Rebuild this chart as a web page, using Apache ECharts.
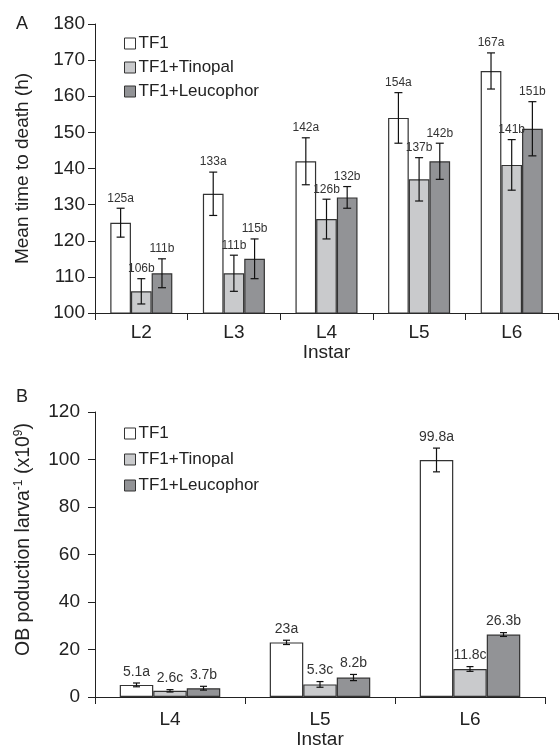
<!DOCTYPE html>
<html>
<head>
<meta charset="utf-8">
<script src="https://cdn.jsdelivr.net/npm/echarts@6/dist/echarts.min.js"></script>
<style>
  html, body { margin: 0; padding: 0; background: #fff; }
  #chart { width: 559px; height: 750px; }
</style>
</head>
<body>
<div id="chart"></div>
<script>
// panel A: mean time to death (h)
const instarsA = ['L2', 'L3', 'L4', 'L5', 'L6'];
const tf1A = [125, 133, 142, 154, 167];
const tinopalA = [106, 111, 126, 137, 141];
const leucoA = [111, 115, 132, 142, 151];
const tf1ErrA = [4, 6, 6.5, 7, 5];
const tinopalErrA = [3.5, 5, 5.5, 6, 7];
const leucoErrA = [4, 5.5, 3, 5, 7.5];
const tf1LabA = ['125a', '133a', '142a', '154a', '167a'];
const tinopalLabA = ['106b', '111b', '126b', '137b', '141b'];
const leucoLabA = ['111b', '115b', '132b', '142b', '151b'];

// panel B: OB production per larva (x10^9)
const instarsB = ['L4', 'L5', 'L6'];
const tf1B = [5.1, 23, 99.8];
const tinopalB = [2.6, 5.3, 11.8];
const leucoB = [3.7, 8.2, 26.3];
const tf1ErrB = [0.8, 0.9, 5];
const tinopalErrB = [0.5, 1.2, 1];
const leucoErrB = [0.8, 1.3, 0.8];
const tf1LabB = ['5.1a', '23a', '99.8a'];
const tinopalLabB = ['2.6c', '5.3c', '11.8c'];
const leucoLabB = ['3.7b', '8.2b', '26.3b'];

const yTicksA = { min: 100, max: 180, interval: 10 };
const yTicksB = { min: 0, max: 120, interval: 20 };

const names = ['TF1', 'TF1+Tinopal', 'TF1+Leucophor'];
const colors = ['#ffffff', '#c9cacc', '#929396'];
const font = 'Liberation Sans, Arial, sans-serif';
const catGap = 0.33;

function errItems(means, errs, labels) {
  const items = [];
  for (let s = 0; s < means.length; s++) {
    for (let c = 0; c < means[s].length; c++) {
      items.push({ value: [c, s, means[s][c] - errs[s][c], means[s][c] + errs[s][c]], label: labels[s][c] });
    }
  }
  return items;
}

const errA = errItems([tf1A, tinopalA, leucoA], [tf1ErrA, tinopalErrA, leucoErrA], [tf1LabA, tinopalLabA, leucoLabA]);
const errB = errItems([tf1B, tinopalB, leucoB], [tf1ErrB, tinopalErrB, leucoErrB], [tf1LabB, tinopalLabB, leucoLabB]);

function errRender(items, capW, fontSize) {
  return function (params, api) {
    const cat = api.value(0), s = api.value(1), lo = api.value(2), hi = api.value(3);
    const band = api.size([1, 0])[0];
    const groupW = band * (1 - catGap);
    const bw = groupW / 3;
    const pLo = api.coord([cat, lo]);
    const pHi = api.coord([cat, hi]);
    const x = pLo[0] - groupW / 2 + bw * (s + 0.5);
    const st = { stroke: '#111', lineWidth: 1.2 };
    return {
      type: 'group',
      children: [
        { type: 'line', shape: { x1: x, y1: pLo[1], x2: x, y2: pHi[1] }, style: st },
        { type: 'line', shape: { x1: x - capW / 2, y1: pHi[1], x2: x + capW / 2, y2: pHi[1] }, style: st },
        { type: 'line', shape: { x1: x - capW / 2, y1: pLo[1], x2: x + capW / 2, y2: pLo[1] }, style: st },
        {
          type: 'text', x: x, y: pHi[1] - 4,
          style: { text: items[params.dataIndex].label, fill: '#333', font: fontSize + 'px ' + font, align: 'center', verticalAlign: 'bottom' }
        }
      ]
    };
  };
}

function barSeries(idx, data, axisIdx) {
  return {
    name: names[idx], type: 'bar', data: data,
    xAxisIndex: axisIdx, yAxisIndex: axisIdx,
    barGap: '0%', barCategoryGap: (catGap * 100) + '%',
    itemStyle: { color: colors[idx], borderColor: '#333', borderWidth: 1.2 },
    silent: true, animation: false
  };
}

const axisLine = { show: true, lineStyle: { color: '#222', width: 1 } };
const axisTick = { show: true, inside: false, length: 7, lineStyle: { color: '#222' } };

function yAxis(grid, ticks, name, nameGap, margin) {
  return {
    type: 'value', gridIndex: grid, min: ticks.min, max: ticks.max, interval: ticks.interval,
    axisLine: axisLine, axisTick: axisTick, splitLine: { show: false },
    axisLabel: { color: '#222', fontSize: 19, fontFamily: font, margin: margin },
    name: name, nameLocation: 'middle', nameGap: nameGap,
    nameTextStyle: { color: '#222', fontSize: 19, fontFamily: font }
  };
}

function xAxis(grid, cats, nameGap, margin) {
  return {
    type: 'category', gridIndex: grid, data: cats,
    axisLine: axisLine, axisTick: axisTick,
    axisLabel: { color: '#222', fontSize: 19, fontFamily: font, margin: margin },
    name: 'Instar', nameLocation: 'middle', nameGap: nameGap,
    nameTextStyle: { color: '#222', fontSize: 19, fontFamily: font }
  };
}

function legend(top, gap) {
  return {
    data: names, orient: 'vertical', left: 119, top: top, itemGap: gap,
    itemWidth: 11, itemHeight: 11, icon: 'rect', selectedMode: false,
    itemStyle: { borderColor: '#333', borderWidth: 1 },
    textStyle: { color: '#222', fontSize: 17, fontFamily: font, padding: [0, 0, 0, -2] }
  };
}

const chart = echarts.init(document.getElementById('chart'));
chart.setOption({
  animation: false,
  backgroundColor: '#fff',
  textStyle: { fontFamily: font },
  grid: [
    { left: 95, top: 24, width: 463, height: 289 },
    { left: 95, top: 412, width: 450, height: 287 }
  ],
  legend: [legend(30, 7), legend(420, 9)],
  title: [
    { text: 'A', left: 11, top: 10, textStyle: { fontSize: 18, fontWeight: 'normal', color: '#222', fontFamily: font } },
    { text: 'B', left: 11, top: 383, textStyle: { fontSize: 18, fontWeight: 'normal', color: '#222', fontFamily: font } }
  ],
  xAxis: [xAxis(0, instarsA, 29, 10), xAxis(1, instarsB, 33, 13)],
  yAxis: [
    yAxis(0, yTicksA, 'Mean time to death (h)', 63, 10),
    {
      ...yAxis(1, yTicksB, '', 60, 15),
      name: '{t|OB poduction larva}{s|-1}{t| (x10}{s|9}{t|)}',
      nameTextStyle: {
        color: '#222', fontFamily: font, padding: [0, 0, 0, 30],
        rich: {
          t: { fontSize: 19.5, color: '#222', fontFamily: font, lineHeight: 22 },
          s: { fontSize: 12, color: '#222', fontFamily: font, verticalAlign: 'top', lineHeight: 22 }
        }
      }
    }
  ],
  series: [
    barSeries(0, tf1A, 0), barSeries(1, tinopalA, 0), barSeries(2, leucoA, 0),
    barSeries(0, tf1B, 1), barSeries(1, tinopalB, 1), barSeries(2, leucoB, 1),
    {
      type: 'custom', xAxisIndex: 0, yAxisIndex: 0, silent: true, z: 5,
      renderItem: errRender(errA, 8, 12), data: errA.map(d => d.value)
    },
    {
      type: 'custom', xAxisIndex: 1, yAxisIndex: 1, silent: true, z: 5,
      renderItem: errRender(errB, 7, 14), data: errB.map(d => d.value)
    }
  ]
});
</script>
</body>
</html>
